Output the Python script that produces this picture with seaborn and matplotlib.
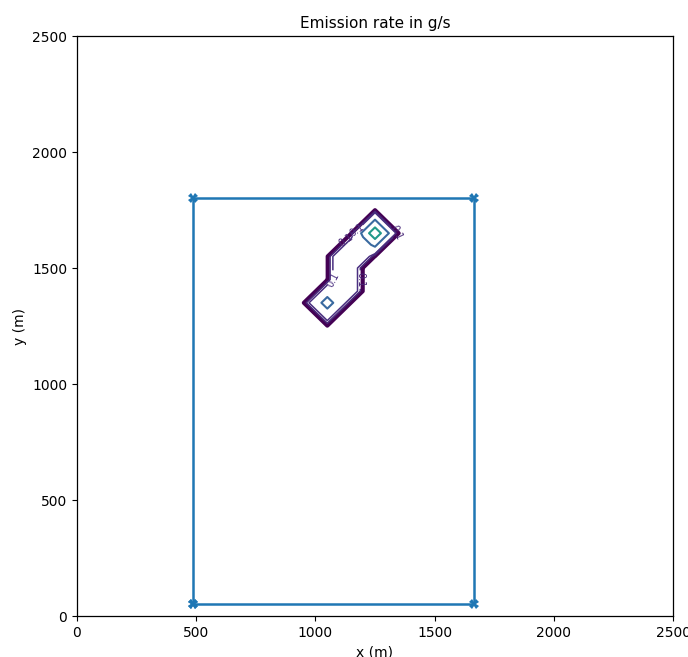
import numpy as np
import pandas as pd
import matplotlib
matplotlib.use("Agg")
import matplotlib.pyplot as plt
import seaborn as sns

sns.set_style("ticks", {"axes.edgecolor": "black", "xtick.color": "black",
                        "ytick.color": "black", "text.color": "black",
                        "axes.labelcolor": "black"})
plt.rcParams["font.family"] = ["DejaVu Sans"]

# Domain boundary (corner points, closed loop)
boundary_x = [485, 1665, 1665, 485, 485]
boundary_y = [50, 50, 1800, 1800, 50]

# Emission-rate grid (g/s), 50 m spacing
grid_x = [900, 950, 1000, 1050, 1100, 1150, 1200, 1250, 1300, 1350, 1400]
grid_y = [1200, 1250, 1300, 1350, 1400, 1450, 1500, 1550, 1600, 1650, 1700, 1750, 1800]
emission = [
    [0, 0, 0,   0,   0,   0,   0,   0,   0,   0, 0],  # 1200
    [0, 0, 0,   0,   0,   0,   0,   0,   0,   0, 0],  # 1250
    [0, 0, 0,   0.3, 0,   0,   0,   0,   0,   0, 0],  # 1300
    [0, 0, 0.3, 0.7, 0.3, 0,   0,   0,   0,   0, 0],  # 1350
    [0, 0, 0,   0.3, 0.3, 0.3, 0,   0,   0,   0, 0],  # 1400
    [0, 0, 0,   0,   0.3, 0.3, 0,   0,   0,   0, 0],  # 1450
    [0, 0, 0,   0,   0.3, 0.3, 0,   0,   0,   0, 0],  # 1500
    [0, 0, 0,   0,   0.3, 0.3, 0.3, 0,   0,   0, 0],  # 1550
    [0, 0, 0,   0,   0,   0.3, 0.3, 0.6, 0,   0, 0],  # 1600
    [0, 0, 0,   0,   0,   0,   0.6, 1.6, 0.6, 0, 0],  # 1650
    [0, 0, 0,   0,   0,   0,   0,   0.6, 0,   0, 0],  # 1700
    [0, 0, 0,   0,   0,   0,   0,   0,   0,   0, 0],  # 1750
    [0, 0, 0,   0,   0,   0,   0,   0,   0,   0, 0],  # 1800
]
outer_level = [0.01]
inner_levels = [0.07, 0.14, 0.5, 1.1]
inner_colors = ["#482878", "#4a2f80", "#3a6aa0", "#21998a"]
inner_widths = [1.1, 1.1, 1.5, 1.5]
label_spots = [(1340, 1655), (1180, 1655), (1120, 1640), (1105, 1425), (1230, 1450)]
tick_values = [0, 500, 1000, 1500, 2000, 2500]

fig = plt.figure(figsize=(6.88, 6.57), dpi=100)
ax = fig.add_axes([0.1119, 0.0624, 0.8663, 0.8828])

df = pd.DataFrame({"x": boundary_x, "y": boundary_y})
sns.lineplot(data=df, x="x", y="y", sort=False, estimator=None, ax=ax,
             color="#1f77b4", linewidth=1.8, marker="X", markersize=7,
             markeredgewidth=0)

X, Y = np.meshgrid(grid_x, grid_y)
Z = np.array(emission)
ax.contour(X, Y, Z, levels=outer_level, colors=["#440154"], linewidths=3.0)
cs = ax.contour(X, Y, Z, levels=inner_levels, colors=inner_colors,
                linewidths=inner_widths)
ax.clabel(cs, fontsize=7, inline=True, fmt="%.1f", manual=label_spots)

ax.set_xlim(0, 2500)
ax.set_ylim(0, 2500)
ax.set_xticks(tick_values)
ax.set_yticks(tick_values)
ax.set_title("Emission rate in g/s", fontsize=11)
ax.set_xlabel("x (m)")
ax.set_ylabel("y (m)")
for s in ax.spines.values():
    s.set_visible(True)
    s.set_linewidth(0.9)

fig.savefig("out.png", dpi=100)
